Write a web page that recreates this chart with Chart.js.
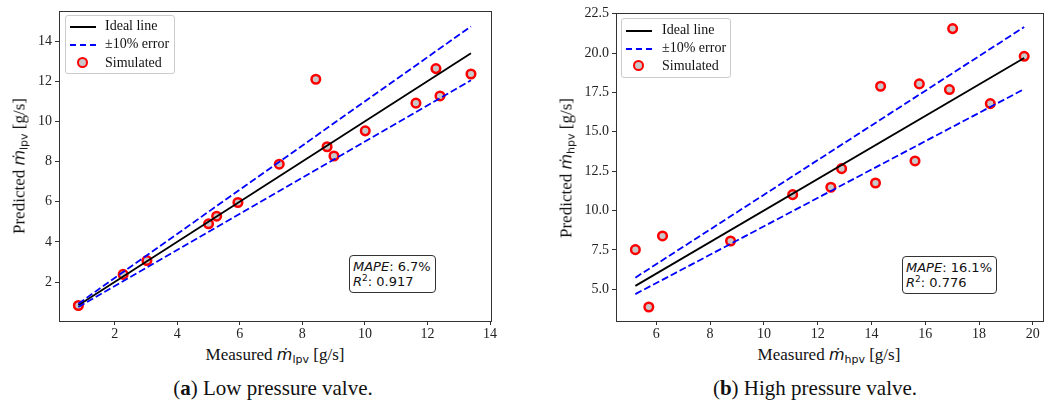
<!DOCTYPE html>
<html>
<head>
<meta charset="utf-8">
<script src="https://cdn.jsdelivr.net/npm/chart.js@4.4.1/dist/chart.umd.min.js"></script>
<style>
    body { margin: 0; background: #fff; width: 1051px; height: 416px; position: relative; overflow: hidden; font-family: 'Liberation Serif', serif; color: #111; }
    .wrap { position: absolute; top: 0; }
    .wrap canvas { position: absolute; left: 0; top: 0; }
    .ytitle { position: absolute; font-size: 17px; white-space: nowrap; transform: translate(-50%, -50%) rotate(-90deg); }
    .xtitle { position: absolute; font-size: 17px; white-space: nowrap; transform: translate(-50%, -50%); }
    .mdot { font-family: 'DejaVu Sans', sans-serif; font-style: italic; font-size: 16px; }
    sub { font-family: 'DejaVu Sans', sans-serif; font-size: 11px; vertical-align: -3px; }
    .caption { position: absolute; font-size: 21px; white-space: nowrap; transform: translate(-50%, -50%); top: 388px; }
    .legend { position: absolute; border: 1px solid #ccc; border-radius: 3px; background: rgba(255,255,255,0.8); font-size: 14px; }
    .legend .row { position: absolute; left: 0; height: 18px; width: 100%; }
    .legend .sym { position: absolute; top: 9px; }
    .legend .txt { position: absolute; top: 0; line-height: 18px; white-space: nowrap; }
    .solid { width: 26px; border-top: 2px solid #000; }
    .dash { width: 26px; border-top: 2px dashed #0000ff; }
    .dot { width: 7px; height: 7px; border: 2.5px solid #ff0000; border-radius: 50%; background: #c8c8c8; margin-top: -6px; }
    .stats { position: absolute; border: 1px solid #333; border-radius: 4px; font-family: 'DejaVu Sans', sans-serif; font-size: 13px; line-height: 15px; padding: 3px 4px 3px 3px; background: #fff; white-space: nowrap; }
    .stats i { font-style: italic; }
    .stats sup { font-size: 9px; vertical-align: 5px; line-height: 0; }
</style>
</head>
<body>
<div class="wrap" style="left:0px;width:520px;height:340px;"><canvas id="chartLpv" width="520" height="340"></canvas></div>
<div class="wrap" style="left:530px;width:521px;height:340px;"><canvas id="chartHpv" width="521" height="340"></canvas></div>

<div class="ytitle" style="left:20px;top:166px;">Predicted <span class="mdot">ṁ</span><sub>lpv</sub> [g/s]</div>
<div class="xtitle" style="left:275px;top:355px;">Measured <span class="mdot">ṁ</span><sub>lpv</sub> [g/s]</div>
<div class="ytitle" style="left:567px;top:168px;">Predicted <span class="mdot">ṁ</span><sub>hpv</sub> [g/s]</div>
<div class="xtitle" style="left:829px;top:355px;">Measured <span class="mdot">ṁ</span><sub>hpv</sub> [g/s]</div>

<div class="legend" style="left:65px;top:15px;width:108px;height:57px;">
    <div class="row" style="top:1px;"><div class="sym solid" style="left:4px;"></div><div class="txt" style="left:39px;">Ideal line</div></div>
    <div class="row" style="top:19px;"><div class="sym dash" style="left:4px;"></div><div class="txt" style="left:39px;">±10% error</div></div>
    <div class="row" style="top:38px;"><div class="sym dot" style="left:11px;"></div><div class="txt" style="left:39px;">Simulated</div></div>
</div>
<div class="legend" style="left:621px;top:18px;width:108px;height:58px;">
    <div class="row" style="top:2px;"><div class="sym solid" style="left:4px;"></div><div class="txt" style="left:40px;">Ideal line</div></div>
    <div class="row" style="top:20px;"><div class="sym dash" style="left:4px;"></div><div class="txt" style="left:40px;">±10% error</div></div>
    <div class="row" style="top:38px;"><div class="sym dot" style="left:11px;"></div><div class="txt" style="left:40px;">Simulated</div></div>
</div>

<div class="stats" style="left:349px;top:255px;"><i>MAPE</i>: 6.7%<br><i>R</i><sup>2</sup>: 0.917</div>
<div class="stats" style="left:902px;top:256px;"><i>MAPE</i>: 16.1%<br><i>R</i><sup>2</sup>: 0.776</div>

<div class="caption" style="left:273px;">(<b>a</b>) Low pressure valve.</div>
<div class="caption" style="left:815px;">(<b>b</b>) High pressure valve.</div>

<script>
// low pressure valve
const lpvMeasured = [0.84, 2.27, 3.03, 5.0, 5.26, 5.94, 7.26, 8.43, 8.79, 9.01, 10.01, 11.63, 12.27, 12.4, 13.39];
const lpvPredicted = [0.83, 2.38, 3.07, 4.9, 5.28, 5.96, 7.87, 12.1, 8.74, 8.28, 9.53, 10.91, 12.63, 11.27, 12.36];
const lpvXTicks = [2, 4, 6, 8, 10, 12, 14];
const lpvYTicks = [2, 4, 6, 8, 10, 12, 14];

// high pressure valve
const hpvMeasured = [5.22, 5.72, 6.23, 8.76, 11.07, 12.49, 12.89, 14.15, 14.34, 15.62, 15.78, 16.9, 17.02, 18.42, 19.68];
const hpvPredicted = [7.52, 3.88, 8.39, 8.07, 11.01, 11.48, 12.66, 11.75, 17.89, 13.15, 18.04, 17.68, 21.55, 16.79, 19.79];
const hpvXTicks = [6, 8, 10, 12, 14, 16, 18, 20];
const hpvYTicks = [5.0, 7.5, 10.0, 12.5, 15.0, 17.5, 20.0, 22.5];

const errorBand = 0.1;

const frame = {
    id: 'frame',
    afterDatasetsDraw(chart) {
        const a = chart.chartArea;
        const ctx = chart.ctx;
        ctx.save();
        ctx.strokeStyle = '#333';
        ctx.lineWidth = 1;
        ctx.strokeRect(Math.round(a.left) + 0.5, Math.round(a.top) + 0.5, Math.round(a.right - a.left), Math.round(a.bottom - a.top));
        ctx.restore();
    },
};

function makeChart(id, measured, predicted, xTicks, yTicks, lim, pad, yWidth, decimals) {
    const lo = Math.min(...measured);
    const hi = Math.max(...measured);
    const line = (f) => [{ x: lo, y: lo * f }, { x: hi, y: hi * f }];

    const axis = (ticks, min, max, isX) => ({
        type: 'linear',
        min: min,
        max: max,
        afterBuildTicks: (a) => { a.ticks = ticks.map((v) => ({ value: v })); },
        afterFit: (a) => { if (isX) a.height = pad.xHeight; else a.width = yWidth; },
        grid: { drawOnChartArea: false, drawTicks: true, tickLength: 4, color: '#333' },
        border: { display: false },
        ticks: {
            color: '#222',
            padding: isX ? 1 : 3,
            font: { family: 'Liberation Serif', size: 14 },
            callback: (v) => isX ? v.toFixed(0) : v.toFixed(decimals),
        },
    });

    return new Chart(document.getElementById(id), {
        type: 'scatter',
        data: {
            datasets: [
                { type: 'line', data: line(1 + errorBand), borderColor: '#0000ff', borderWidth: 1.8, borderDash: [7, 3], pointRadius: 0, fill: false },
                { type: 'line', data: line(1 - errorBand), borderColor: '#0000ff', borderWidth: 1.8, borderDash: [7, 3], pointRadius: 0, fill: false },
                { type: 'line', data: line(1), borderColor: '#000', borderWidth: 1.8, pointRadius: 0, fill: false },
                {
                    data: measured.map((m, i) => ({ x: m, y: predicted[i] })),
                    borderColor: '#ff0000',
                    backgroundColor: '#c8c8c8',
                    borderWidth: 2.5,
                    pointRadius: 4.3,
                },
            ],
        },
        options: {
            responsive: false,
            animation: false,
            layout: { padding: { top: pad.top, right: pad.right, left: 0, bottom: 0 } },
            scales: {
                x: axis(xTicks, lim.x0, lim.x1, true),
                y: axis(yTicks, lim.y0, lim.y1, false),
            },
            plugins: { legend: { display: false }, tooltip: { enabled: false } },
        },
        plugins: [frame],
    });
}

makeChart('chartLpv', lpvMeasured, lpvPredicted, lpvXTicks, lpvYTicks,
    { x0: 0.22, x1: 14.03, y0: 0.06, y1: 15.48 }, { top: 8, right: 29, xHeight: 19 }, 59, 0);
makeChart('chartHpv', hpvMeasured, hpvPredicted, hpvXTicks, hpvYTicks,
    { x0: 4.5, x1: 20.38, y0: 2.99, y1: 22.54 }, { top: 13, right: 8, xHeight: 19 }, 86, 1);
</script>
</body>
</html>
